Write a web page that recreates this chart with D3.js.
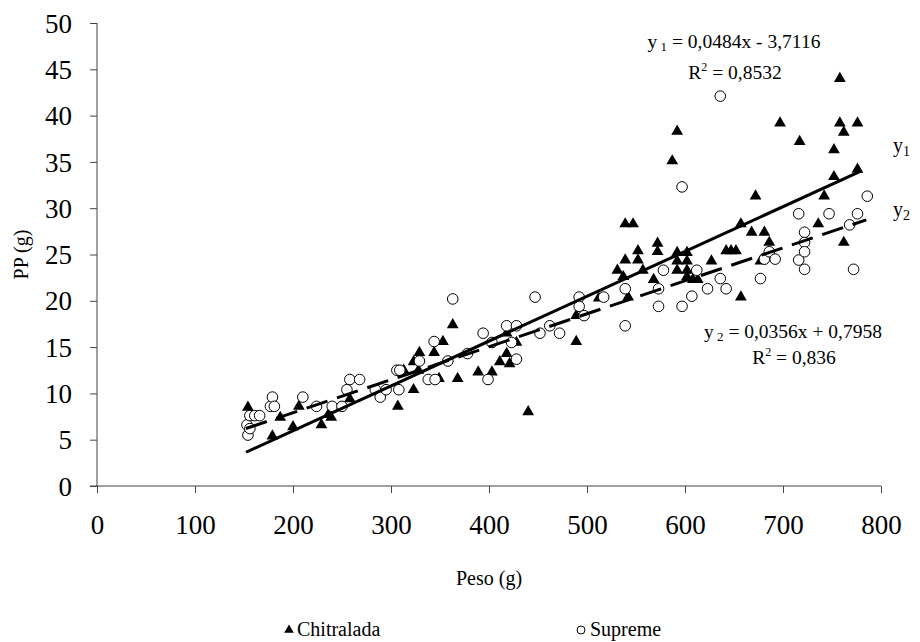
<!DOCTYPE html>
<html>
<head>
<meta charset="utf-8">
<script src="https://cdn.jsdelivr.net/npm/d3@7"></script>
</head>
<body style="margin:0; background:#fff">
<svg width="920" height="642"></svg>
<script>
// Peso (g) vs PP (g)
const chitralada = [
  [154, 8.5], [179, 5.4], [187, 7.4], [200, 6.4], [206, 8.6], [229, 6.6], [236, 7.7], [239, 7.4],
  [258, 9.4], [307, 8.6], [313, 12.5], [323, 10.4], [323, 13.4], [328, 12.5], [329, 14.4], [344, 14.4],
  [349, 11.6], [353, 15.6], [363, 17.4], [368, 11.6], [389, 12.3], [403, 12.3], [411, 13.4], [418, 14.3],
  [418, 16.5], [421, 13.2], [428, 15.5], [440, 8], [489, 15.6], [489, 18.4], [512, 20.3], [531, 23.3],
  [537, 22.6], [539, 24.4], [539, 28.3], [542, 20.4], [547, 28.3], [552, 25.4], [552, 24.4], [557, 23.3],
  [568, 22.3], [572, 26.2], [572, 25.3], [587, 35.1], [592, 38.3], [592, 25.2], [592, 24.3], [592, 23.3],
  [602, 25.2], [602, 24.3], [602, 23.3], [602, 22.6], [608, 22.3], [613, 22.3], [627, 24.3], [642, 25.4],
  [647, 25.4], [652, 25.4], [657, 20.4], [657, 28.3], [668, 27.4], [672, 31.3], [677, 24.3], [681, 27.4],
  [686, 26.3], [697, 39.2], [717, 37.2], [736, 28.3], [742, 31.3], [752, 36.3], [752, 33.4], [758, 44],
  [758, 39.2], [762, 38.2], [762, 26.3], [776, 39.2], [776, 34.2]
];

const supreme = [
  [153, 6.6], [154, 5.5], [156, 6.2], [156, 7.6], [161, 7.6], [166, 7.6], [177, 8.6], [179, 9.6],
  [181, 8.6], [210, 9.6], [224, 8.6], [240, 8.6], [250, 8.6], [255, 10.4], [258, 11.5], [268, 11.5],
  [284, 10.4], [289, 9.6], [295, 10.4], [306, 12.5], [308, 10.4], [309, 12.5], [329, 13.5], [338, 11.5],
  [344, 15.6], [345, 11.5], [358, 13.5], [363, 20.2], [378, 14.3], [394, 16.5], [399, 11.5], [403, 15.5],
  [418, 17.3], [423, 15.5], [428, 17.3], [428, 13.7], [447, 20.4], [452, 16.5], [462, 17.3], [472, 16.5],
  [492, 20.4], [492, 19.4], [497, 18.4], [517, 20.4], [539, 21.3], [539, 17.3], [573, 21.3], [573, 19.4],
  [578, 23.3], [597, 19.4], [597, 32.3], [607, 20.5], [612, 23.3], [623, 21.3], [636, 22.4], [636, 42.1],
  [642, 21.3], [677, 22.4], [681, 24.5], [686, 25.3], [692, 24.5], [716, 29.4], [716, 24.4], [722, 27.4],
  [722, 26.3], [722, 25.3], [722, 23.4], [747, 29.4], [768, 28.2], [772, 23.4], [776, 29.4], [786, 31.3]
];

const xTicks = [0, 100, 200, 300, 400, 500, 600, 700, 800];
const yTicks = [0, 5, 10, 15, 20, 25, 30, 35, 40, 45, 50];

// trend lines: [slope, intercept, x from, x to]
const trend1 = [0.0484, -3.7116, 152, 780];
const trend2 = [0.0356, 0.7958, 152, 785];

const FONT = "Times New Roman, Liberation Serif, serif";

const svg = d3.select("svg");

const x = d3.scaleLinear().domain([0, 800]).range([97, 881]);
const y = d3.scaleLinear().domain([0, 50]).range([486, 23]);

// axes
svg.append("g")
  .attr("transform", `translate(0,${y(0)})`)
  .call(d3.axisBottom(x).tickValues(xTicks).tickSize(7).tickFormat(d3.format("d")))
  .call(g => g.attr("font-family", FONT).attr("font-size", 27))
  .call(g => g.select(".domain").attr("d", `M${x(0) - 7},0H${x(800)}`).attr("stroke", "#444"))
  .call(g => g.selectAll("line").attr("stroke", "#444"))
  .call(g => g.selectAll("text").attr("dy", 0).attr("y", 48).attr("fill", "#000")
    .attr("font-family", FONT).attr("font-size", 27));

svg.append("g")
  .attr("transform", `translate(${x(0)},0)`)
  .call(d3.axisLeft(y).tickValues(yTicks).tickSize(7))
  .call(g => g.attr("font-family", FONT).attr("font-size", 27))
  .call(g => g.select(".domain").attr("d", `M0,${y(50)}V${y(0)}`).attr("stroke", "#444"))
  .call(g => g.selectAll("line").attr("stroke", "#444"))
  .call(g => g.selectAll("text").attr("x", -25).attr("dy", "0.34em").attr("fill", "#000")
    .attr("font-family", FONT).attr("font-size", 27));

function label(xp, yp, size) {
  return svg.append("text").attr("x", xp).attr("y", yp)
    .attr("font-family", FONT).attr("font-size", size).attr("fill", "#000");
}

// axis titles
label(x(400), 585, 20).attr("text-anchor", "middle").text("Peso (g)");
label(0, 0, 20).attr("transform", `translate(28,${y(25)}) rotate(-90)`)
  .attr("text-anchor", "middle").text("PP (g)");

// points
const tri = d3.symbol().type(d3.symbolTriangle).size(60);

svg.append("g").selectAll("path")
  .data(chitralada)
  .join("path")
  .attr("d", tri)
  .attr("transform", d => `translate(${x(d[0])},${y(d[1])})`)
  .attr("fill", "#000");

svg.append("g").selectAll("circle")
  .data(supreme)
  .join("circle")
  .attr("cx", d => x(d[0]))
  .attr("cy", d => y(d[1]))
  .attr("r", 5.3)
  .attr("fill", "#fff")
  .attr("stroke", "#000")
  .attr("stroke-width", 1);

// trend lines
function trendLine(t) {
  return d3.line()([[x(t[2]), y(t[0] * t[2] + t[1])], [x(t[3]), y(t[0] * t[3] + t[1])]]);
}

svg.append("path")
  .attr("d", trendLine(trend1))
  .attr("stroke", "#000").attr("stroke-width", 3).attr("fill", "none");

svg.append("path")
  .attr("d", trendLine(trend2))
  .attr("stroke", "#000").attr("stroke-width", 3).attr("fill", "none")
  .attr("stroke-dasharray", "22,10");

// equations
function eq(xp, yp, name, rest) {
  const t = label(xp, yp, 19.5).attr("text-anchor", "middle");
  t.append("tspan").text("y");
  t.append("tspan").attr("font-size", 13).attr("dy", 3).text(" " + name);
  t.append("tspan").attr("dy", -3).text(rest);
}
function r2(xp, yp, val) {
  const t = label(xp, yp, 19.5).attr("text-anchor", "middle");
  t.append("tspan").text("R");
  t.append("tspan").attr("font-size", 12).attr("dy", -8).text("2");
  t.append("tspan").attr("dy", 8).text(" = " + val);
}

eq(734, 48, "1", " = 0,0484x - 3,7116");
r2(735, 79, "0,8532");
eq(793, 338, "2", " = 0,0356x + 0,7958");
r2(794, 364, "0,836");

// y1 / y2 labels on right
[["1", 152], ["2", 216]].forEach(([n, yp]) => {
  const t = label(893, yp, 20);
  t.append("tspan").text("y");
  t.append("tspan").attr("font-size", 14).attr("dy", 4).text(n);
});

// legend
svg.append("path")
  .attr("d", d3.symbol().type(d3.symbolTriangle).size(40))
  .attr("transform", "translate(289,630)");
label(297, 636, 20).text("Chitralada");

svg.append("circle").attr("cx", 581).attr("cy", 630).attr("r", 4)
  .attr("fill", "#fff").attr("stroke", "#000");
label(590, 636, 20).text("Supreme");
</script>
</body>
</html>
